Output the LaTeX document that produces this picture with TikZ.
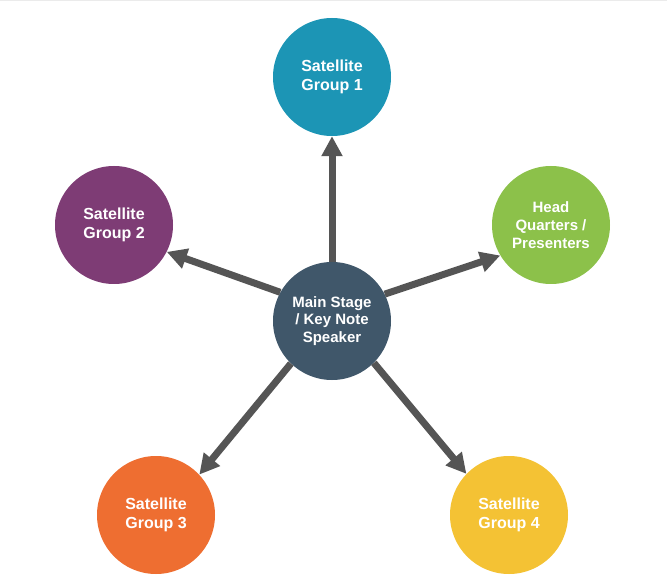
\documentclass[tikz,border=0pt]{standalone}
\usepackage{fontspec}
\newfontfamily\lblfont{Liberation Sans}
\usetikzlibrary{arrows.meta}
\definecolor{cteal}{HTML}{1C95B5}
\definecolor{cpurple}{HTML}{7E3C75}
\definecolor{cgreen}{HTML}{8CC14A}
\definecolor{cslate}{HTML}{40576A}
\definecolor{corange}{HTML}{EE6E31}
\definecolor{cyellow}{HTML}{F4C234}
\definecolor{arrowgray}{HTML}{555555}
\definecolor{topline}{HTML}{EBEBEB}
\begin{document}
\begin{tikzpicture}[x=1pt,y=-1pt,
  bubble/.style={circle,minimum size=118pt,inner sep=0pt,text=white,align=center,
    font=\lblfont\bfseries\fontsize{16}{19}\selectfont},
  bubblethree/.style={bubble,font=\lblfont\bfseries\fontsize{15}{17.7}\selectfont},
  conn/.style={draw=arrowgray,line width=7pt,-{Triangle[length=20pt,width=20pt]}}]
\useasboundingbox (0,0) rectangle (667,588);
\fill[white] (0,0) rectangle (667,588);
\draw[topline,line width=1.5pt] (0,0.75) -- (667,0.75);

\node[bubblethree,fill=cslate] (c) at (332,321) {Main Stage\\/ Key Note\\Speaker};
\node[bubble,fill=cteal] (s1) at (332,77) {Satellite\\Group 1};
\node[bubble,fill=cpurple] (s2) at (114,225) {Satellite\\Group 2};
\node[bubblethree,fill=cgreen] (hq) at (551,225) {Head\\Quarters /\\Presenters};
\node[bubble,fill=corange] (s3) at (156,515) {Satellite\\Group 3};
\node[bubble,fill=cyellow] (s4) at (509,515) {Satellite\\Group 4};

\draw[conn] (c.90) -- (s1.270);
\draw[conn] (c.151.7) -- (s2.-27.4);
\draw[conn] (c.27.8) -- (hq.211.9);
\draw[conn] (c.226.7) -- (s3.43.9);
\draw[conn] (c.-45.3) -- (s4.136.3);
\end{tikzpicture}
\end{document}
